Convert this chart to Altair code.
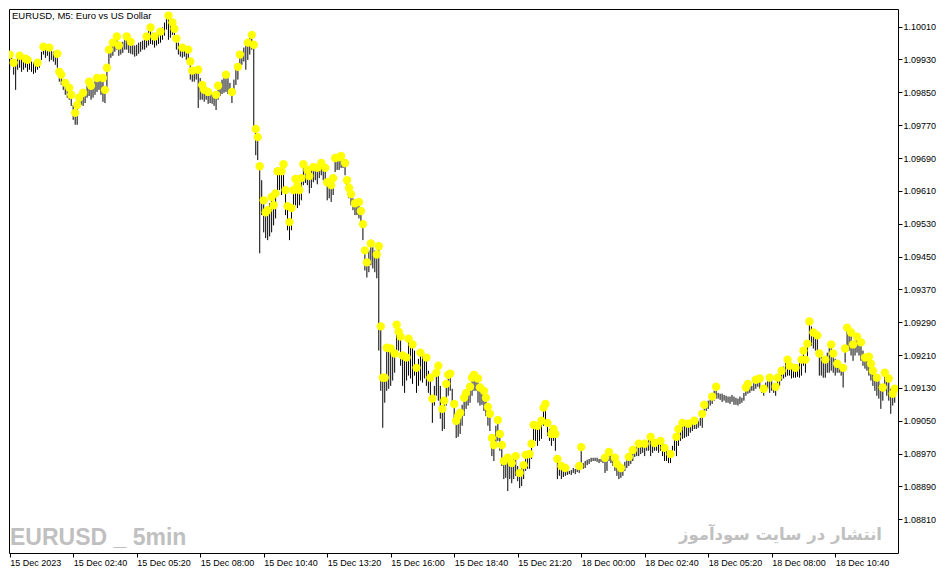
import json
import altair as alt
import pandas as pd

# ---- data (prices = BASE + points / 100000) ----
BASE = 1.08
high_pts = [
    1942, 1939, 1922, 1929, 1934, 1939, 1937, 1934, 1932, 1929,
    1927, 1925, 1922, 1920, 1922, 1929, 1949, 1961, 1959, 1954,
    1959, 1954, 1949, 1946, 1944, 1900, 1893, 1881, 1873, 1866,
    1861, 1844, 1819, 1800, 1819, 1837, 1844, 1849, 1856, 1866,
    1876, 1866, 1871, 1881, 1885, 1885, 1881, 1885, 1856, 1910,
    1954, 1966, 1971, 1978, 1986, 1964, 1966, 1973, 1983, 1986,
    1978, 1973, 1968, 1964, 1966, 1971, 1973, 1976, 1981, 1986,
    2000, 2008, 1995, 1986, 1990, 1995, 1998, 2008, 2020, 2032,
    2037, 2027, 2020, 2005, 1981, 1971, 1964, 1959, 1959, 1959,
    1954, 1925, 1903, 1900, 1905, 1905, 1885, 1868, 1856, 1856,
    1851, 1849, 1846, 1844, 1844, 1866, 1873, 1881, 1888, 1893,
    1885, 1873, 1851, 1881, 1905, 1912, 1942, 1949, 1959, 1966,
    1971, 1983, 1990, 1966, 1761, 1741, 1670, 1636, 1587, 1558,
    1563, 1580, 1595, 1575, 1604, 1658, 1661, 1658, 1675, 1612,
    1573, 1534, 1568, 1612, 1639, 1622, 1612, 1641, 1675, 1673,
    1661, 1646, 1661, 1668, 1673, 1666, 1670, 1678, 1673, 1666,
    1631, 1624, 1624, 1641, 1690, 1692, 1692, 1695, 1690, 1678,
    1636, 1617, 1602, 1592, 1580, 1587, 1583, 1561, 1529, 1465,
    1436, 1465, 1482, 1473, 1465, 1455, 1475, 1280, 1155, 1155,
    1228, 1231, 1226, 1221, 1214, 1284, 1267, 1255, 1209, 1206,
    1204, 1250, 1245, 1236, 1221, 1179, 1201, 1216, 1209, 1204,
    1204, 1172, 1155, 1104, 1135, 1167, 1184, 1135, 1079, 1099,
    1140, 1162, 1165, 1128, 1091, 1050, 1062, 1070, 1089, 1106,
    1118, 1123, 1133, 1155, 1162, 1157, 1153, 1131, 1126, 1123,
    1106, 1084, 1067, 1008, 991, 1038, 1052, 1018, 991, 952,
    957, 960, 952, 947, 957, 964, 940, 923, 935, 942,
    967, 967, 969, 994, 1040, 1038, 1038, 1045, 1050, 1082,
    1091, 1045, 1030, 1018, 1030, 1018, 957, 947, 940, 938,
    935, 933, 928, 930, 935, 933, 938, 940, 986, 947,
    952, 955, 957, 960, 960, 960, 960, 957, 957, 955,
    960, 969, 974, 969, 964, 960, 945, 940, 935, 942,
    950, 957, 962, 972, 979, 984, 989, 994, 994, 994,
    994, 1001, 1006, 1011, 1001, 996, 999, 999, 1001, 994,
    984, 979, 974, 969, 989, 1006, 1011, 1030, 1038, 1045,
    1043, 1043, 1043, 1045, 1047, 1050, 1050, 1050, 1057, 1067,
    1089, 1094, 1099, 1104, 1109, 1123, 1133, 1118, 1116, 1116,
    1113, 1111, 1109, 1109, 1113, 1109, 1106, 1104, 1109, 1106,
    1118, 1131, 1140, 1133, 1135, 1143, 1150, 1153, 1153, 1135,
    1128, 1143, 1150, 1155, 1148, 1138, 1133, 1155, 1165, 1172,
    1182, 1192, 1199, 1184, 1182, 1182, 1179, 1187, 1192, 1199,
    1221, 1199, 1238, 1292, 1280, 1265, 1260, 1258, 1214, 1206,
    1201, 1199, 1216, 1228, 1236, 1214, 1201, 1189, 1184, 1182,
    1179, 1226, 1277, 1270, 1265, 1236, 1245, 1255, 1248, 1241,
    1221, 1204, 1206, 1206, 1189, 1172, 1162, 1155, 1148, 1140,
    1131, 1167, 1160, 1153, 1128, 1116, 1128,
]
low_pts = [
    1905, 1915, 1893, 1856, 1905, 1910, 1900, 1905, 1910, 1900,
    1905, 1900, 1895, 1898, 1905, 1910, 1929, 1942, 1934, 1939,
    1925, 1929, 1925, 1917, 1910, 1876, 1868, 1856, 1844, 1837,
    1832, 1817, 1783, 1771, 1771, 1812, 1819, 1817, 1824, 1837,
    1841, 1832, 1837, 1844, 1851, 1856, 1844, 1827, 1824, 1856,
    1917, 1934, 1939, 1949, 1954, 1939, 1942, 1946, 1954, 1954,
    1946, 1944, 1942, 1937, 1939, 1944, 1949, 1954, 1954, 1959,
    1964, 1968, 1966, 1959, 1964, 1968, 1971, 1978, 1988, 2003,
    1978, 1983, 1990, 1978, 1954, 1942, 1937, 1934, 1937, 1929,
    1925, 1881, 1876, 1876, 1881, 1812, 1832, 1832, 1827, 1832,
    1822, 1824, 1822, 1817, 1807, 1832, 1841, 1846, 1849, 1851,
    1846, 1844, 1824, 1844, 1868, 1881, 1910, 1917, 1925, 1905,
    1929, 1942, 1954, 1758, 1697, 1685, 1458, 1551, 1509, 1495,
    1490, 1499, 1509, 1526, 1543, 1600, 1612, 1600, 1612, 1551,
    1514, 1490, 1514, 1563, 1575, 1568, 1575, 1587, 1624, 1629,
    1624, 1604, 1617, 1631, 1636, 1626, 1641, 1648, 1636, 1624,
    1587, 1592, 1583, 1600, 1656, 1661, 1661, 1666, 1666, 1648,
    1617, 1592, 1575, 1563, 1551, 1551, 1543, 1526, 1490, 1416,
    1399, 1412, 1429, 1421, 1412, 1397, 1221, 1123, 1033, 1094,
    1123, 1128, 1135, 1148, 1167, 1209, 1221, 1184, 1135, 1118,
    1148, 1160, 1153, 1140, 1160, 1118, 1135, 1148, 1143, 1153,
    1135, 1118, 1099, 1045, 1087, 1111, 1099, 1055, 1025, 1030,
    1087, 1111, 1123, 1087, 1050, 1008, 1011, 1018, 1038, 1062,
    1079, 1087, 1094, 1111, 1123, 1123, 1094, 1087, 1089, 1074,
    1062, 1038, 1025, 964, 952, 989, 1001, 977, 940, 908,
    911, 879, 908, 898, 908, 916, 903, 886, 891, 908,
    928, 933, 933, 957, 1001, 1001, 989, 1001, 1006, 1038,
    1050, 1013, 1001, 989, 1001, 977, 908, 916, 908, 913,
    916, 918, 920, 918, 923, 920, 925, 923, 940, 933,
    935, 942, 945, 950, 952, 952, 950, 947, 950, 947,
    923, 928, 952, 947, 940, 928, 916, 908, 911, 916,
    928, 935, 940, 945, 952, 962, 964, 964, 969, 972,
    964, 977, 977, 964, 972, 977, 977, 972, 977, 964,
    952, 952, 947, 947, 964, 977, 964, 989, 1001, 1006,
    1008, 1011, 1013, 1021, 1025, 1030, 1030, 1033, 1038, 1033,
    1062, 1074, 1079, 1087, 1091, 1099, 1104, 1104, 1101, 1096,
    1099, 1094, 1094, 1091, 1096, 1089, 1089, 1087, 1091, 1094,
    1099, 1111, 1116, 1118, 1123, 1123, 1128, 1133, 1128, 1118,
    1111, 1123, 1128, 1118, 1123, 1118, 1111, 1128, 1135, 1148,
    1153, 1157, 1160, 1160, 1153, 1155, 1155, 1157, 1155, 1160,
    1184, 1167, 1201, 1245, 1233, 1226, 1221, 1216, 1160, 1160,
    1155, 1155, 1167, 1167, 1172, 1167, 1160, 1167, 1167, 1160,
    1131, 1192, 1233, 1221, 1209, 1196, 1209, 1216, 1209, 1196,
    1184, 1177, 1172, 1160, 1148, 1135, 1123, 1111, 1104, 1079,
    1099, 1123, 1111, 1099, 1067, 1087, 1094,
]
dot_bars = [
    0, 2, 5, 8, 9, 14, 17, 20, 24, 25, 26, 28, 30, 31, 33, 34, 35, 37, 40, 41,
    44, 47, 48, 49, 50, 52, 54, 55, 59, 61, 69, 71, 73, 76, 80, 82, 83, 84, 87,
    90, 91, 92, 95, 97, 98, 100, 104, 105, 109, 112, 115, 116, 120, 122, 123,
    124, 125, 126, 128, 129, 130, 132, 133, 134, 135, 137, 138, 139, 140, 141,
    142, 143, 144, 145, 146, 147, 148, 150, 151, 153, 155, 157, 159, 160, 162,
    163, 164, 166, 167, 169, 170, 171, 172, 174, 176, 177, 178, 179, 180, 182,
    185, 186, 187, 188, 189, 190, 192, 194, 195, 196, 197, 198, 200, 201, 203,
    205, 207, 210, 212, 213, 215, 216, 218, 219, 220, 221, 222, 224, 225, 226,
    227, 229, 230, 232, 233, 234, 236, 237, 239, 240, 241, 242, 243, 244, 246,
    247, 248, 249, 251, 253, 255, 257, 259, 260, 262, 263, 264, 266, 268, 269,
    270, 271, 273, 274, 275, 276, 278, 280, 287, 288, 300, 302, 305, 306, 308,
    312, 314, 317, 320, 323, 325, 328, 330, 333, 336, 337, 339, 342, 345, 349,
    350, 354, 356, 371, 372, 376, 378, 380, 383, 386, 387, 389, 392, 393, 396,
    399, 400, 401, 402, 403, 405, 407, 408, 411, 414, 415, 417, 420, 421, 422,
    424, 425, 427, 429, 431, 433, 434, 435, 437, 440, 441, 443, 445, 446,
]
tick_bars = [0, 32, 64, 96, 128, 160, 192, 224, 256, 288, 320, 352, 384, 416]
time_labels = [
    "15 Dec 2023", "15 Dec 02:40", "15 Dec 05:20", "15 Dec 08:00",
    "15 Dec 10:40", "15 Dec 13:20", "15 Dec 16:00", "15 Dec 18:40",
    "15 Dec 21:20", "18 Dec 00:00", "18 Dec 02:40", "18 Dec 05:20",
    "18 Dec 08:00", "18 Dec 10:40",
]
price_ticks = [
    1.08810, 1.08890, 1.08970, 1.09050, 1.09130, 1.09210, 1.09290, 1.09370,
    1.09450, 1.09530, 1.09610, 1.09690, 1.09770, 1.09850, 1.09930, 1.10010,
]
title_text = "EURUSD, M5:  Euro vs US Dollar"
mark_left = "EURUSD _ 5min"
mark_right = "انتشار در سایت سودآموز"

bars = pd.DataFrame({
    "bar": list(range(len(high_pts))),
    "high": [BASE + p / 100000 for p in high_pts],
    "low": [BASE + p / 100000 for p in low_pts],
})
dots = bars.iloc[dot_bars].reset_index(drop=True)

xscale = alt.Scale(domain=[-0.35, 447.65], nice=False, zero=False)
yscale = alt.Scale(domain=[1.08728, 1.10053], nice=False, zero=False)

label_expr = json.dumps(time_labels) + "[round(datum.value / 32)]"

x_axis = alt.Axis(
    values=tick_bars, labelExpr=label_expr, orient="bottom", title=None,
    grid=False, domain=False, ticks=True, tickSize=4, tickColor="black",
    labelAlign="left", labelBaseline="top", labelPadding=1,
    labelFont="Liberation Sans", labelFontSize=9, labelColor="black",
    labelFlush=False, labelOverlap=False,
)
y_axis = alt.Axis(
    values=price_ticks, format=".5f", orient="right", title=None,
    grid=False, domain=False, ticks=True, tickSize=4, tickColor="black",
    labelAlign="left", labelBaseline="middle", labelPadding=1,
    labelFont="Liberation Sans", labelFontSize=9, labelColor="black",
    labelFlush=False, labelOverlap=False,
)

rules = alt.Chart(bars).mark_rule(color="black", strokeWidth=1, clip=True).encode(
    x=alt.X("bar:Q", scale=xscale, axis=x_axis),
    y=alt.Y("high:Q", scale=yscale, axis=y_axis),
    y2="low:Q",
)
points = alt.Chart(dots).mark_circle(
    color="#ffff00", size=70, opacity=1, clip=True
).encode(
    x=alt.X("bar:Q", scale=xscale, axis=x_axis),
    y=alt.Y("high:Q", scale=yscale, axis=y_axis),
)

title = alt.Chart(pd.DataFrame({"t": [title_text]})).mark_text(
    align="left", baseline="alphabetic", font="Liberation Sans",
    fontSize=9.5, color="black",
).encode(x=alt.value(3), y=alt.value(10), text="t:N")

wm_left = alt.Chart(pd.DataFrame({"t": [mark_left]})).mark_text(
    align="left", baseline="alphabetic", font="Liberation Sans",
    fontSize=23, fontWeight="bold", color="#c0c0c0",
).encode(x=alt.value(1), y=alt.value(536), text="t:N")

wm_right = alt.Chart(pd.DataFrame({"t": [mark_right]})).mark_text(
    align="right", baseline="alphabetic", font="DejaVu Sans",
    fontSize=16.5, fontWeight="bold", color="#c0c0c0",
).encode(x=alt.value(873), y=alt.value(531), text="t:N")

chart = alt.layer(rules, points, title, wm_left, wm_right).properties(
    width=889, height=544,
    padding={"left": 1, "top": 1, "right": 2, "bottom": 2},
    background="white",
).configure_view(stroke="black", strokeWidth=1)

chart.save("out.html", embed_options={"renderer": "svg", "actions": False})
